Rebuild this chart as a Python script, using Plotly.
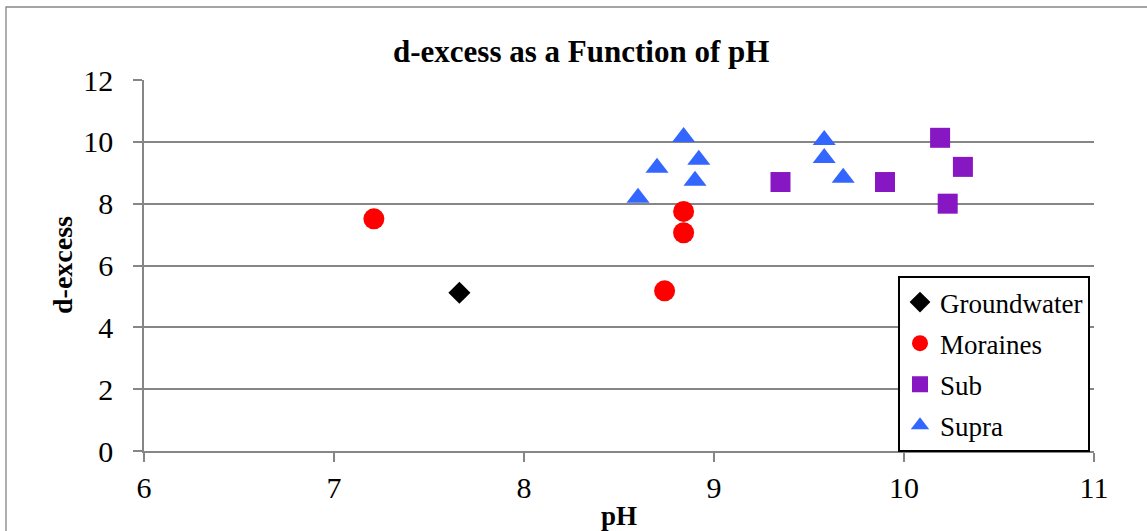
import plotly.graph_objects as go

# ---- data ----
gw_ph = [7.66]
gw_dx = [5.12]

mor_ph = [7.21, 8.84, 8.84, 8.74]
mor_dx = [7.51, 7.75, 7.06, 5.18]

sub_ph = [9.35, 9.90, 10.19, 10.31, 10.23]
sub_dx = [8.70, 8.70, 10.13, 9.19, 8.00]

supra_ph = [8.60, 8.70, 8.84, 8.92, 8.90, 9.58, 9.58, 9.68]
supra_dx = [8.19, 9.16, 10.16, 9.42, 8.74, 10.06, 9.48, 8.84]

x_ticks = [6, 7, 8, 9, 10, 11]
y_ticks = [0, 2, 4, 6, 8, 10, 12]

FONT = "Times New Roman, Liberation Serif, serif"
GRAY = "#868686"

fig = go.Figure()
fig.add_trace(go.Scatter(x=gw_ph, y=gw_dx, mode="markers", name="Groundwater",
                         legendgroup="g1",
                         marker=dict(symbol="diamond", size=17, color="#000000")))
fig.add_trace(go.Scatter(x=mor_ph, y=mor_dx, mode="markers", name="Moraines",
                         legendgroup="g2",
                         marker=dict(symbol="circle", size=21, color="#FF0000")))
fig.add_trace(go.Scatter(x=sub_ph, y=sub_dx, mode="markers", name="Sub",
                         legendgroup="g3",
                         marker=dict(symbol="square", size=20, color="#8716C3")))
fig.add_trace(go.Scatter(x=supra_ph, y=supra_dx, mode="markers", name="Supra",
                         legendgroup="g4",
                         marker=dict(symbol="triangle-up", size=20, color="#3366FF")))

# screen coordinates of the plot area
L, R, T, B = 144, 1094, 80, 451
W, H = 1147, 531
pw, ph = R - L, B - T

def px(xp):
    return (xp - L) / pw

def py(yp):
    return (B - yp) / ph

fig.update_layout(
    width=W, height=H,
    margin=dict(l=L, r=W - R, t=T, b=H - B, pad=0),
    paper_bgcolor="white", plot_bgcolor="white",
    font=dict(family=FONT, size=27, color="#000000"),
    showlegend=True,
    legend=dict(x=px(898), y=py(276), xanchor="left", yanchor="top",
                bgcolor="white", bordercolor="#000000", borderwidth=2,
                font=dict(family=FONT, size=27), itemwidth=30,
                traceorder="grouped", tracegroupgap=3),
    xaxis=dict(range=[6, 11], tickvals=x_ticks, showgrid=False, zeroline=False,
               showline=True, linecolor=GRAY, linewidth=1.5,
               ticks="outside", ticklen=9, tickcolor=GRAY, tickwidth=1.5,
               tickfont=dict(family=FONT, size=30), ticklabelstandoff=0),
    yaxis=dict(range=[0, 12], tickvals=y_ticks, showgrid=True, gridcolor=GRAY,
               gridwidth=1.5, zeroline=False,
               showline=True, linecolor=GRAY, linewidth=1.5,
               ticks="outside", ticklen=9, tickcolor=GRAY, tickwidth=1.5,
               tickfont=dict(family=FONT, size=30), ticklabelstandoff=14),
    shapes=[dict(type="rect", xref="paper", yref="paper",
                 x0=px(6), x1=px(1200), y0=py(600), y1=py(7),
                 line=dict(color=GRAY, width=1.3), fillcolor="rgba(0,0,0,0)",
                 layer="below")],
    annotations=[
        dict(text="<b>d-excess as a Function of pH</b>", xref="paper", yref="paper",
             x=px(581), y=py(51), xanchor="center", yanchor="middle",
             showarrow=False, font=dict(family=FONT, size=31)),
        dict(text="<b>d-excess</b>", xref="paper", yref="paper",
             x=px(62), y=py(265), xanchor="center", yanchor="middle",
             textangle=-90, showarrow=False, font=dict(family=FONT, size=28)),
        dict(text="<b>pH</b>", xref="paper", yref="paper",
             x=px(619), y=py(516), xanchor="center", yanchor="middle",
             showarrow=False, font=dict(family=FONT, size=27)),
    ],
)

fig.write_html("out.html", config={"displayModeBar": False},
               post_script="document.body.style.margin='0';document.body.style.padding='0';")
